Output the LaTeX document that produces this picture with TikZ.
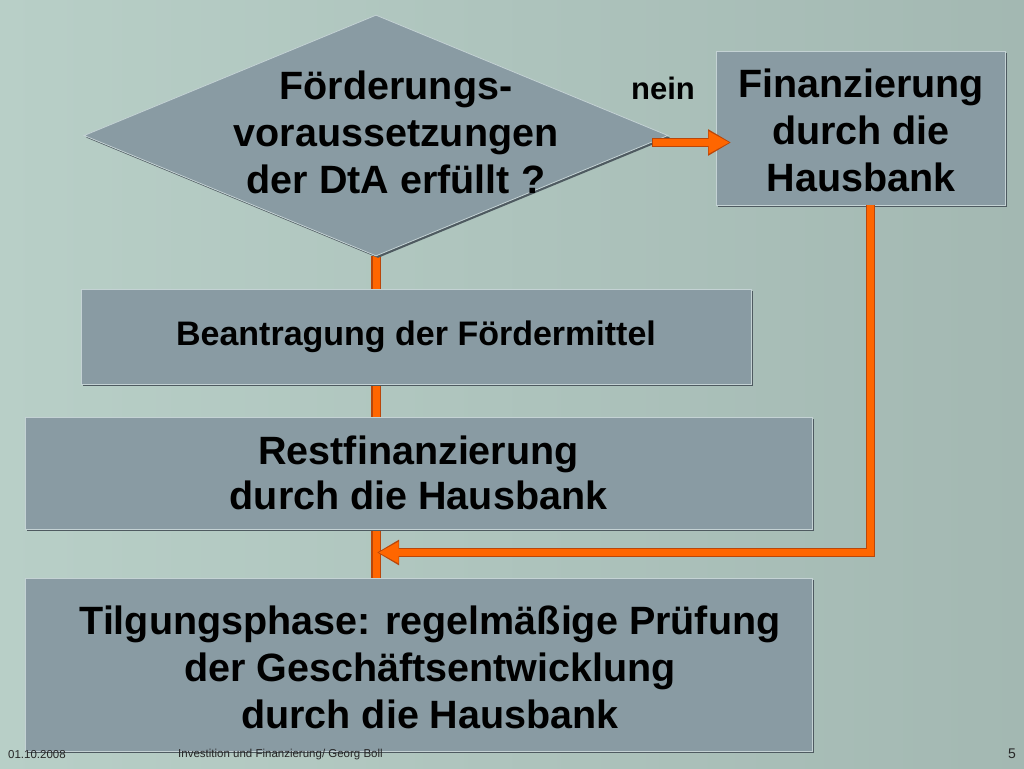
\documentclass[tikz,border=0pt]{standalone}
\usepackage{fontspec}
\setmainfont{Liberation Sans}
\usetikzlibrary{arrows.meta,shadows,shapes.geometric}
\definecolor{bgA}{RGB}{184,207,199}
\definecolor{bgB}{RGB}{163,184,178}
\definecolor{boxfill}{RGB}{137,155,163}
\definecolor{boxdark}{RGB}{78,90,96}
\definecolor{boxlight}{RGB}{196,210,212}
\definecolor{orng}{RGB}{255,102,0}
\definecolor{orngdark}{RGB}{185,70,10}
\pgfdeclarelayer{back}
\pgfdeclarelayer{lines}
\pgfsetlayers{back,lines,main}
\tikzset{
  box/.style={draw=boxlight, fill=boxfill, line width=0.8pt, inner sep=0pt, align=center,
    font=\bfseries\fontsize{39.5}{47}\selectfont,
    drop shadow={shadow xshift=2pt, shadow yshift=-2pt, fill=boxdark, opacity=1}},
  boxtext/.style={inner sep=0pt, align=center, font=\bfseries\fontsize{39.5}{47}\selectfont},
  flowshadow/.style={line width=10pt, draw=orngdark},
  flow/.style={line width=7pt, draw=orng},
  foot/.style={font=\fontsize{11.5}{13}\selectfont, text=black!85, inner sep=0pt, anchor=west}
}
\begin{document}
\begin{tikzpicture}[x=1pt,y=-1pt]
\begin{pgfonlayer}{back}
\shade[left color=bgA,right color=bgB] (0,0) rectangle (1024,768);
\end{pgfonlayer}
\useasboundingbox (0,0) rectangle (1024,768);

% diamond
\node[box, shape=diamond, minimum width=584pt, minimum height=241pt] (dia) at (376,135.5) {};
\node[boxtext] (diatext) at (396,132.5) {Förderungs-\\voraussetzungen\\der DtA erfüllt ?};

% boxes
\node[box, minimum width=289pt, minimum height=154pt] (fin) at (860.5,128) {};
\node[boxtext] (fintext) at (861,130) {Finanzierung\\durch die\\Hausbank};
\node[box, minimum width=670pt, minimum height=95pt, font=\bfseries\fontsize{34}{39}\selectfont] (bean) at (416,336.5) {Beantragung der Fördermittel};
\node[box, minimum width=787pt, minimum height=112pt, font=\bfseries\fontsize{39.5}{45}\selectfont] (rest) at (418.5,473) {Restfinanzierung\\durch die Hausbank};
\node[box, minimum width=787pt, minimum height=173pt] (tilg) at (418.5,664.5) {};
\node[boxtext] (tilgtext) at (430,667.5) {Tilgungsphase: regelmäßige Prüfung\\der Geschäftsentwicklung\\durch die Hausbank};

% main vertical flow behind boxes
\begin{pgfonlayer}{lines}
\draw[flowshadow] (dia.south) -- (tilg.north -| dia.south);
\draw[flow] (dia.south) -- (tilg.north -| dia.south);
\end{pgfonlayer}

% nein arrow
\coordinate (nStart) at (652,142.5);
\coordinate (nEnd) at (731,142.5);
\draw[line width=9.5pt, draw=orngdark, -{Triangle[length=23pt,width=25pt]}] (nStart) -- (nEnd);
\draw[line width=7pt, draw=orng, -{Triangle[length=21pt,width=21pt]}] ([xshift=1pt]nStart) -- ([xshift=-1.5pt]nEnd);
\node[font=\bfseries\fontsize{31}{36}\selectfont, inner sep=0pt] (nein) at (663,88) {nein};

% return path
\coordinate (corner) at (870.5,552.5);
\coordinate (joint) at (377,552.5);
\draw[line width=9.5pt, draw=orngdark, -{Triangle[length=22pt,width=24pt]}] (fin.south -| corner) -- (corner) -- (joint);
\draw[line width=7pt, draw=orng, -{Triangle[length=20pt,width=20pt]}] (fin.south -| corner) -- (corner) -- ([xshift=1.5pt]joint);

% footer
\node[foot] (date) at (8,755) {01.10.2008};
\node[foot] (title) at (178,755) {Investition und Finanzierung/ Georg Boll};
\node[foot, anchor=east, font=\fontsize{14}{16}\selectfont] (page) at (1016,754) {5};
\end{tikzpicture}
\end{document}
